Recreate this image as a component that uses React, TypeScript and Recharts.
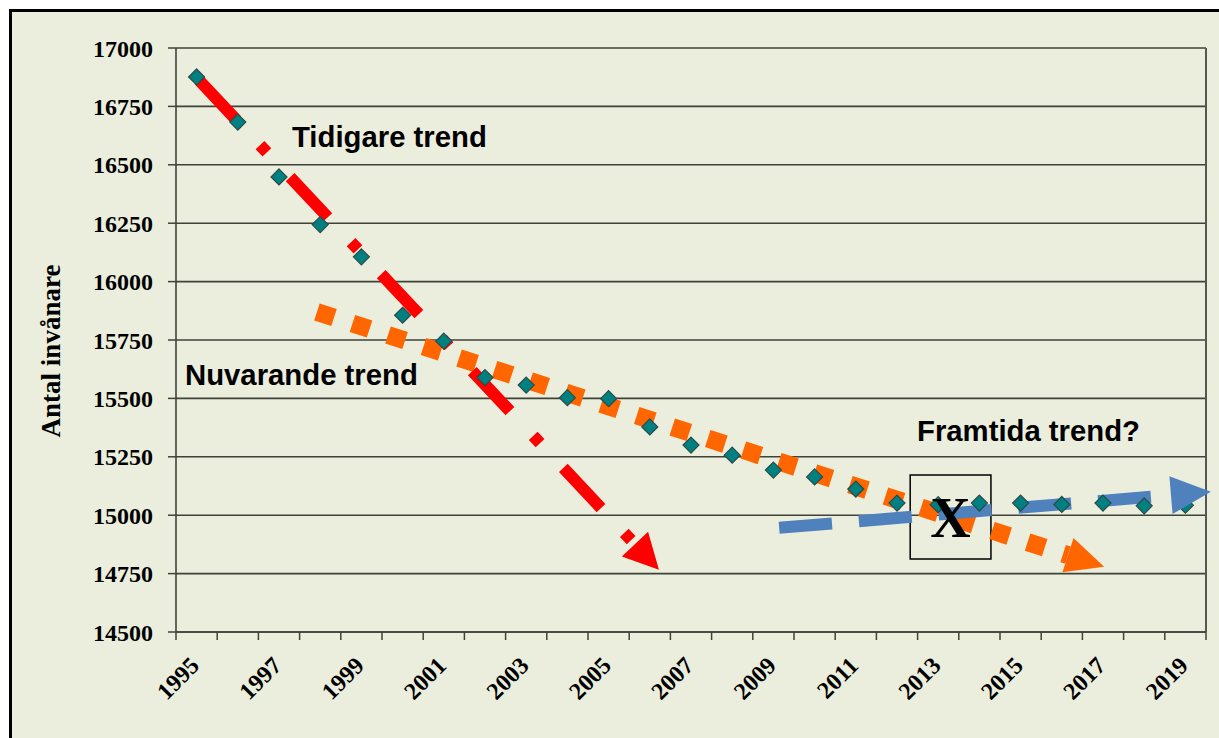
import { ComposedChart, Line, XAxis, YAxis, CartesianGrid, ReferenceLine, ReferenceArea } from 'recharts';

const W = 1219;
const H = 738;
const BG = '#EBEEDD';
const GRID = '#3f4238';
const SERIF = 'Liberation Serif';
const SANS = 'Liberation Sans';

// observed population per year
const years = [1995, 1996, 1997, 1998, 1999, 2000, 2001, 2002, 2003, 2004, 2005, 2006, 2007, 2008, 2009, 2010, 2011, 2012, 2013, 2014, 2015, 2016, 2017, 2018, 2019];
const population = [16876, 16683, 16448, 16244, 16106, 15856, 15745, 15589, 15557, 15503, 15499, 15378, 15300, 15257, 15193, 15164, 15112, 15052, 15045, 15052, 15052, 15046, 15052, 15040, 15043];

// axis ticks
const yTicks = [14500, 14750, 15000, 15250, 15500, 15750, 16000, 16250, 16500, 16750, 17000];
const labelYears = [1995, 1997, 1999, 2001, 2003, 2005, 2007, 2009, 2011, 2013, 2015, 2017, 2019];
const categoryEdges = [1994.5, 1995.5, 1996.5, 1997.5, 1998.5, 1999.5, 2000.5, 2001.5, 2002.5, 2003.5, 2004.5, 2005.5, 2006.5, 2007.5, 2008.5, 2009.5, 2010.5, 2011.5, 2012.5, 2013.5, 2014.5, 2015.5, 2016.5, 2017.5, 2018.5, 2019.5];

// hand-drawn trend arrows (start, arrow base)
const earlierTrendX = [1995.06, 2005.64];
const earlierTrendY = [16862, 14876];
const currentTrendX = [1997.92, 2016.15];
const currentTrendY = [15870, 14829];
const futureTrendX = [2009.14, 2018.65];
const futureTrendY = [14946, 15086];

// the "X" box
const boxX = [2012.32, 2014.28];
const boxY = [14812, 15172];

const toPoints = (xs: number[], ys: number[]) => xs.map((x, i) => ({ x, y: ys[i] }));

const observed = toPoints(years, population);
const earlierTrend = toPoints(earlierTrendX, earlierTrendY);
const currentTrend = toPoints(currentTrendX, currentTrendY);
const futureTrend = toPoints(futureTrendX, futureTrendY);

function Diamond(props: any) {
  const { cx, cy, index } = props;
  if (cx == null || cy == null) return <g key={index} />;
  const r = 8;
  return (
    <polygon
      key={index}
      points={`${cx},${cy - r} ${cx + r},${cy} ${cx},${cy + r} ${cx - r},${cy}`}
      fill="#008080"
      stroke="#2a4a48"
      strokeWidth={1.2}
    />
  );
}

function arrowHead(color: string, len: number, half: number) {
  return (props: any) => {
    const { cx, cy, index, points } = props;
    if (!points || index !== points.length - 1) return <g key={index} />;
    const p0 = points[0];
    const dx = cx - p0.x;
    const dy = cy - p0.y;
    const d = Math.hypot(dx, dy) || 1;
    const ux = dx / d;
    const uy = dy / d;
    const tip = `${cx + ux * len},${cy + uy * len}`;
    const b1 = `${cx - uy * half},${cy + ux * half}`;
    const b2 = `${cx + uy * half},${cy - ux * half}`;
    return <polygon key={index} points={`${b1} ${tip} ${b2}`} fill={color} stroke="none" />;
  };
}

function YearTick({ x, y, payload }: any) {
  const v = payload.value;
  if (!Number.isInteger(v)) {
    return <line x1={x} x2={x} y1={y - 8} y2={y} stroke={GRID} strokeWidth={1.5} />;
  }
  const tx = x + 4;
  const ty = y + 27;
  return (
    <text
      x={tx}
      y={ty}
      transform={`rotate(-45 ${tx} ${ty})`}
      textAnchor="end"
      style={{ fontFamily: SERIF, fontWeight: 700, fontSize: 24 }}
      fill="#000"
    >
      {v}
    </text>
  );
}

export default function App() {
  return (
    <div style={{ position: 'absolute', left: 0, top: 0, width: W, height: H, overflow: 'hidden', background: '#fff' }}>
      <div
        style={{
          position: 'absolute',
          left: 9,
          top: 9,
          width: W,
          height: H,
          borderLeft: '3px solid #000',
          borderTop: '3px solid #000',
          background: BG,
        }}
      />
      <div style={{ position: 'absolute', left: 0, top: 0 }}>
        <ComposedChart width={W} height={H} margin={{ top: 48, right: 13, bottom: 16, left: 76 }}>
          <CartesianGrid vertical={false} stroke={GRID} strokeWidth={1.6} />
          <XAxis
            type="number"
            dataKey="x"
            domain={[1994.5, 2019.5]}
            ticks={[...categoryEdges, ...labelYears]}
            interval={0}
            height={90}
            tickSize={8}
            tickMargin={0}
            tickLine={false}
            axisLine={{ stroke: GRID, strokeWidth: 1.6 }}
            tick={<YearTick />}
          />
          <YAxis
            type="number"
            domain={[14500, 17000]}
            ticks={yTicks}
            interval={0}
            width={100}
            tickSize={8}
            tickMargin={15}
            tickLine={{ stroke: GRID, strokeWidth: 1.5 }}
            axisLine={{ stroke: GRID, strokeWidth: 1.6 }}
            tick={{ style: { fontFamily: SERIF, fontWeight: 700, fontSize: 24 }, fill: '#000' }}
          />
          <ReferenceLine x={2019.5} stroke="#55584e" strokeWidth={2} />
          <Line
            data={observed}
            dataKey="y"
            stroke="none"
            dot={<Diamond />}
            activeDot={false}
            isAnimationActive={false}
          />
          <Line
            data={currentTrend}
            dataKey="y"
            stroke="#FF6600"
            strokeWidth={18}
            strokeDasharray="18 19.35"
            dot={arrowHead('#FF6600', 38, 18)}
            activeDot={false}
            isAnimationActive={false}
          />
          <ReferenceArea
            x1={boxX[0]}
            x2={boxX[1]}
            y1={boxY[0]}
            y2={boxY[1]}
            fill="none"
            fillOpacity={0}
            stroke="#000"
            strokeWidth={1.5}
            label={{ value: 'X', position: 'center', fontSize: 56, fontWeight: 'bold', fontFamily: SERIF, fill: '#000' }}
          />
          <Line
            data={futureTrend}
            dataKey="y"
            stroke="#4F81BD"
            strokeWidth={12}
            strokeDasharray="53 27"
            dot={arrowHead('#4F81BD', 40, 19)}
            activeDot={false}
            isAnimationActive={false}
          />
          <Line
            data={earlierTrend}
            dataKey="y"
            stroke="#FF0000"
            strokeWidth={12}
            strokeDasharray="55 34 10 34"
            dot={arrowHead('#FF0000', 35, 18)}
            activeDot={false}
            isAnimationActive={false}
          />
        </ComposedChart>
      </div>
      <svg width={W} height={H} style={{ position: 'absolute', left: 0, top: 0, pointerEvents: 'none' }}>
        <text x={60} y={351} transform="rotate(-90 60 351)" textAnchor="middle" style={{ fontFamily: SERIF, fontWeight: 700, fontSize: 27 }} fill="#000">
          Antal invånare
        </text>
        <text x={292} y={147} style={{ fontFamily: SANS, fontWeight: 700, fontSize: 29.3 }} fill="#000">Tidigare trend</text>
        <text x={185} y={385} style={{ fontFamily: SANS, fontWeight: 700, fontSize: 29.3 }} fill="#000">Nuvarande trend</text>
        <text x={917} y={441} style={{ fontFamily: SANS, fontWeight: 700, fontSize: 29.3 }} fill="#000">Framtida trend?</text>
      </svg>
    </div>
  );
}
